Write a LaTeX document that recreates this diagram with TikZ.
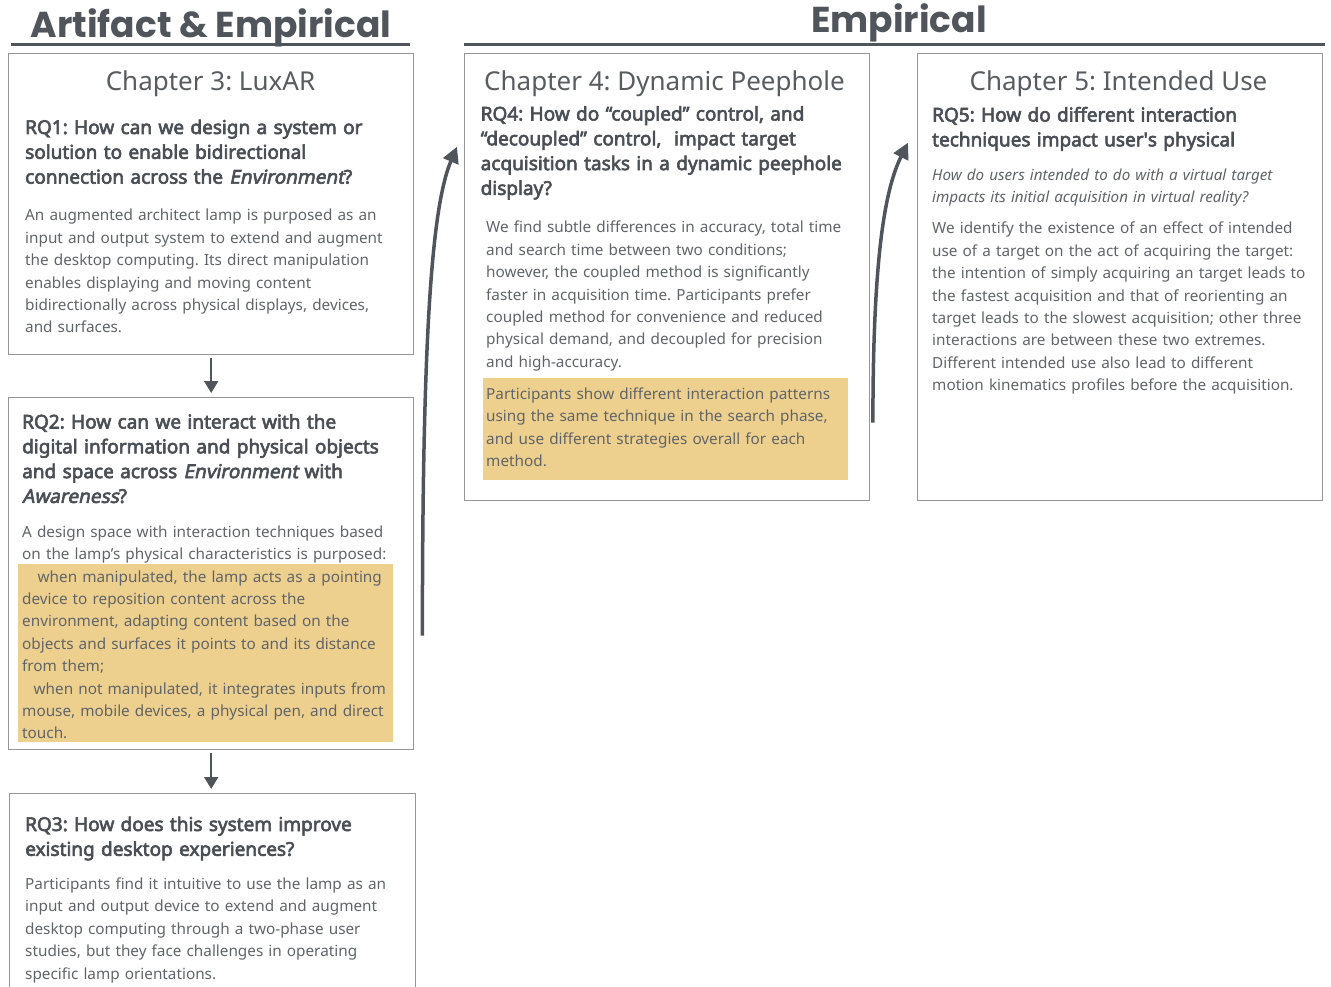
\documentclass[tikz,border=0pt]{standalone}
\usepackage{fontspec}
\setmainfont{Noto Sans}[BoldFont={*}, BoldFeatures={FakeBold=3.2}, BoldItalicFont={*}, BoldItalicFeatures={FakeBold=3.2, FakeSlant=0.2}]
\newfontfamily\poppins{Poppins}
\usetikzlibrary{arrows.meta,calc}
\definecolor{titlec}{RGB}{80,85,92}
\definecolor{headc}{RGB}{74,79,85}
\definecolor{bodyc}{RGB}{96,100,105}
\definecolor{chapc}{RGB}{88,92,97}
\definecolor{boxc}{RGB}{150,150,150}
\definecolor{hlc}{RGB}{238,208,142}
\definecolor{arrowc}{RGB}{80,85,92}
\frenchspacing
\begin{document}
\begin{tikzpicture}[x=1pt,y=-1pt,
  bigtitle/.style={anchor=base, inner sep=0pt, text=titlec, font=\poppins\bfseries\fontsize{36}{40}\selectfont},
  uline/.style={draw=titlec, line width=2.2pt},
  boxnode/.style={draw=boxc, line width=1.4pt, fill=none, anchor=north west, inner sep=0pt},
  chap/.style={anchor=base, inner sep=0pt, text=chapc, font=\fontsize{26}{30}\selectfont},
  rq/.style={anchor=base west, inner sep=0pt, text width=440pt, align=left, text=headc, font=\fontsize{19}{24.8}\selectfont\bfseries\frenchspacing},
  body/.style={anchor=base west, inner sep=0pt, text width=440pt, align=left, text=bodyc, font=\fontsize{15.3}{22.4}\selectfont\frenchspacing},
  itbody/.style={anchor=base west, inner sep=0pt, text width=440pt, align=left, text=bodyc, font=\fontsize{15.2}{22}\selectfont\itshape\frenchspacing},
  straight/.style={draw=arrowc, line width=2pt, -{Triangle[width=14pt,length=12pt]}},
  curved/.style={draw=arrowc, line width=3.5pt, -{Triangle[width=16pt,length=16pt]}}
]
\useasboundingbox (0,0) rectangle (1331,987);

% section titles
\node[bigtitle] (t1) at (211,37.5) {Artifact \& Empirical};
\draw[uline] (11,44.5) -- (410,44.5);
\node[bigtitle] (t2) at (899,33) {Empirical};
\draw[uline] (464,44.5) -- (1325,44.5);

% highlight backgrounds
\fill[hlc] (18,564) rectangle (393,742);
\fill[hlc] (483,378) rectangle (848,479.5);

% boxes
\node[boxnode, minimum width=405pt, minimum height=301pt] (box1) at (8,53) {};
\node[boxnode, minimum width=405pt, minimum height=352pt] (box2) at (8,397) {};
\node[boxnode, minimum width=406pt, minimum height=215pt] (box3) at (9,793) {};
\node[boxnode, minimum width=405pt, minimum height=447pt] (box4) at (464,53) {};
\node[boxnode, minimum width=405pt, minimum height=447pt] (box5) at (917,53) {};

% Chapter 3
\node[chap] (c3) at (210.5,91) {Chapter 3: LuxAR};
\node[rq] (rq1) at (25,134) {RQ1: How can we design a system or\\solution to enable bidirectional\\connection across the \textit{Environment}?};
\node[body] (b1) at (25,221) {An augmented architect lamp is purposed as an\\input and output system to extend and augment\\the desktop computing. Its direct manipulation\\enables displaying and moving content\\bidirectionally across physical displays, devices,\\and surfaces.};

\node[rq] (rq2) at (22,428.5) {RQ2: How can we interact with the\\digital information and physical objects\\and space across \textit{Environment} with\\\textit{Awareness}?};
\node[body] (b2) at (22,537) {A design space with interaction techniques based\\on the lamp’s physical characteristics is purposed:};
\node[body] (b2h) at (22,582) {\hspace*{15.5pt}when manipulated, the lamp acts as a pointing\\device to reposition content across the\\environment, adapting content based on the\\objects and surfaces it points to and its distance\\from them;\\\hspace*{11.5pt}when not manipulated, it integrates inputs from\\mouse, mobile devices, a physical pen, and direct\\touch.};

\node[rq] (rq3) at (25,831) {RQ3: How does this system improve\\existing desktop experiences?};
\node[body] (b3) at (25,889.5) {Participants find it intuitive to use the lamp as an\\input and output device to extend and augment\\desktop computing through a two-phase user\\studies, but they face challenges in operating\\specific lamp orientations.};

% Chapter 4
\node[chap] (c4) at (664.5,91) {Chapter 4: Dynamic Peephole};
\node[rq] (rq4) at (480.5,120.5) {RQ4: How do “coupled” control, and\\“decoupled” control,\ \ impact target\\acquisition tasks in a dynamic peephole\\display?};
\node[body] (b4) at (486,233) {We find subtle differences in accuracy, total time\\and search time between two conditions;\\however, the coupled method is significantly\\faster in acquisition time. Participants prefer\\coupled method for convenience and reduced\\physical demand, and decoupled for precision\\and high-accuracy.};
\node[body] (b4h) at (486,399.5) {Participants show different interaction patterns\\using the same technique in the search phase,\\and use different strategies overall for each\\method.};

% Chapter 5
\node[chap] (c5) at (1118.5,91) {Chapter 5: Intended Use};
\node[rq] (rq5) at (932,121.5) {RQ5: How do different interaction\\techniques impact user\textquotesingle s physical};
\node[itbody] (i5) at (932,180.5) {How do users intended to do with a virtual target\\impacts its initial acquisition in virtual reality?};
\node[body] (b5) at (932,234) {We identify the existence of an effect of intended\\use of a target on the act of acquiring the target:\\the intention of simply acquiring an target leads to\\the fastest acquisition and that of reorienting an\\target leads to the slowest acquisition; other three\\interactions are between these two extremes.\\Different intended use also lead to different\\motion kinematics profiles before the acquisition.};

% connectors
\draw[straight, shorten <=3pt, shorten >=4pt] (box1.south) -- (box2.north);
\draw[straight, shorten <=3pt, shorten >=4pt] (box2.south) -- (box2.south |- box3.north);
\coordinate (s1) at ($(box2.east)+(8,62)$);
\coordinate (e1) at ($(box4.west)+(-7,-130.5)$);
\draw[curved] (s1) .. controls ($(s1)+(0,-305)$) and ($(e1)+(-25,59)$) .. (e1);
\coordinate (s2) at ($(box4.east)+(2.5,145.5)$);
\coordinate (e2) at ($(box5.west)+(-9,-134.5)$);
\draw[curved] (s2) .. controls ($(s2)+(0,-160)$) and ($(e2)+(-24,48)$) .. (e2);
\end{tikzpicture}
\end{document}
